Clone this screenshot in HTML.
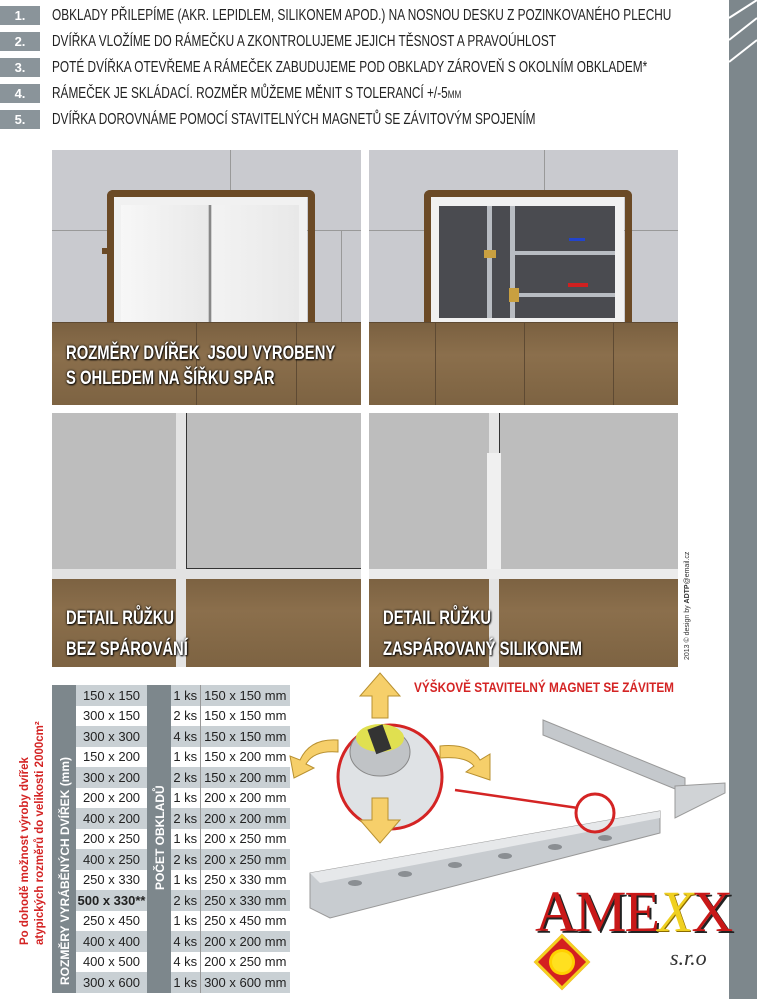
<!DOCTYPE html>
<html><head><meta charset="utf-8"><style>
*{margin:0;padding:0;box-sizing:border-box}
body{width:757px;height:999px;position:relative;background:#fff;overflow:hidden;font-family:"Liberation Sans",sans-serif}
.a{position:absolute}
.num{position:absolute;left:0;width:40px;height:19px;background:#8a949a;color:#fff;font-weight:bold;font-size:13px;line-height:19px;text-align:center}
.ln{position:absolute;left:52px;font-size:16px;line-height:19px;color:#222;white-space:nowrap;transform-origin:0 0;transform:scaleX(0.74)}
.panel{position:absolute;overflow:hidden;background:#c9cacf}
.wood{position:absolute;left:0;right:0;bottom:0;background:linear-gradient(180deg,#7a6040,#8b6f4c 40%,#7d6342)}
.cap{position:absolute;color:#fff;font-weight:bold;font-size:19px;line-height:25px;white-space:nowrap;transform-origin:0 0;transform:scaleX(0.78);text-shadow:1px 1px 2px #000,0 0 3px #000}
table{border-collapse:collapse;position:absolute}
td{height:20.5px;font-size:13px;color:#222;text-align:center;padding:0;white-space:nowrap}
</style></head><body>
<div class="a" style="left:729px;top:0;width:28px;height:999px;background:#7d878c"></div>
<svg class="a" style="left:729px;top:0" width="28" height="70"><path d="M0 18L28 0M0 40L28 18M0 62L28 40" stroke="#fff" stroke-width="2" fill="none"/></svg>

<div class="num" style="top:6px">1.</div><div class="ln" style="top:6px">OBKLADY PŘILEPÍME (AKR. LEPIDLEM, SILIKONEM APOD.) NA NOSNOU DESKU Z POZINKOVANÉHO PLECHU</div>
<div class="num" style="top:32px">2.</div><div class="ln" style="top:32px">DVÍŘKA VLOŽÍME DO RÁMEČKU A ZKONTROLUJEME JEJICH TĚSNOST A PRAVOÚHLOST</div>
<div class="num" style="top:58px">3.</div><div class="ln" style="top:58px">POTÉ DVÍŘKA OTEVŘEME A RÁMEČEK ZABUDUJEME POD OBKLADY ZÁROVEŇ S OKOLNÍM OBKLADEM*</div>
<div class="num" style="top:84px">4.</div><div class="ln" style="top:84px">RÁMEČEK JE SKLÁDACÍ. ROZMĚR MŮŽEME MĚNIT S TOLERANCÍ +/-5<span style="font-size:11px">MM</span></div>
<div class="num" style="top:110px">5.</div><div class="ln" style="top:110px">DVÍŘKA DOROVNÁME POMOCÍ STAVITELNÝCH MAGNETŮ SE ZÁVITOVÝM SPOJENÍM</div>

<!-- top-left panel -->
<div class="panel" style="left:52px;top:150px;width:309px;height:255px">
 <div class="a" style="left:0;top:80px;width:309px;height:1px;background:#999"></div>
 <div class="a" style="left:178px;top:0;width:1px;height:80px;background:#999"></div>
 <div class="a" style="left:289px;top:80px;width:1px;height:92px;background:#999"></div>
 <div class="wood" style="height:83px"></div>
 <div class="a" style="left:50px;top:98px;width:32px;height:6px;background:#6b4a26"></div>
 <div class="a" style="left:55px;top:40px;width:208px;height:132px;border:7px solid #6b4a26;border-bottom:none;border-radius:6px 6px 0 0"></div>
 <div class="a" style="left:62px;top:47px;width:193px;height:125px;background:#f1f1f1"></div>
 <div class="a" style="left:69px;top:55px;width:178px;height:117px;background:linear-gradient(90deg,#f7f7f7,#e9e9e9 49%,#888 49.5%,#888 50.5%,#f3f3f3 51%,#e8e8e8)"></div>
 <div class="a" style="left:0;top:172px;width:309px;height:1px;background:#5e4a33"></div>
 <div class="a" style="left:144px;top:172px;width:1px;height:83px;background:#5e4a33"></div>
 <div class="a" style="left:244px;top:172px;width:1px;height:83px;background:#5e4a33"></div>
 <div class="cap" style="left:14px;top:191px">ROZMĚRY DVÍŘEK&nbsp; JSOU VYROBENY<br>S OHLEDEM NA ŠÍŘKU SPÁR</div>
</div>
<!-- top-right panel -->
<div class="panel" style="left:369px;top:150px;width:309px;height:255px">
 <div class="a" style="left:0;top:80px;width:309px;height:1px;background:#999"></div>
 <div class="a" style="left:175px;top:0;width:1px;height:80px;background:#999"></div>
 <div class="wood" style="height:83px"></div>
 <div class="a" style="left:55px;top:40px;width:208px;height:132px;border:7px solid #6b4a26;border-bottom:none;border-radius:6px 6px 0 0"></div>
 <div class="a" style="left:62px;top:47px;width:193px;height:125px;background:#f1f1f1"></div>
 <div class="a" style="left:70px;top:56px;width:176px;height:112px;background:#4a4b50"></div>
 <div class="a" style="left:118px;top:56px;width:5px;height:112px;background:#b8bcc2"></div>
 <div class="a" style="left:141px;top:56px;width:5px;height:112px;background:#b8bcc2"></div>
 <div class="a" style="left:141px;top:101px;width:105px;height:4px;background:#b8bcc2"></div>
 <div class="a" style="left:141px;top:143px;width:105px;height:4px;background:#b8bcc2"></div>
 <div class="a" style="left:115px;top:100px;width:12px;height:8px;background:#c9a040"></div>
 <div class="a" style="left:140px;top:138px;width:10px;height:14px;background:#c9a040"></div>
 <div class="a" style="left:200px;top:88px;width:16px;height:3px;background:#2244cc"></div>
 <div class="a" style="left:199px;top:133px;width:20px;height:4px;background:#d02020"></div>
 <div class="a" style="left:0;top:172px;width:309px;height:1px;background:#5e4a33"></div>
 <div class="a" style="left:66px;top:172px;width:1px;height:83px;background:#5e4a33"></div>
 <div class="a" style="left:155px;top:172px;width:1px;height:83px;background:#5e4a33"></div>
 <div class="a" style="left:244px;top:172px;width:1px;height:83px;background:#5e4a33"></div>
</div>
<!-- bottom-left -->
<div class="panel" style="left:52px;top:413px;width:309px;height:254px;background:#bdbdbd">
 <div class="wood" style="height:93px"></div>
 <div class="a" style="left:124px;top:0;width:10px;height:254px;background:#e4e4e4"></div>
 <div class="a" style="left:0;top:156px;width:309px;height:10px;background:#e2e2e2"></div>
 <div class="a" style="left:134px;top:0;width:1px;height:155px;background:#333"></div>
 <div class="a" style="left:134px;top:155px;width:175px;height:1px;background:#333"></div>
 <div class="cap" style="left:14px;top:190px;line-height:31px">DETAIL RŮŽKU<br>BEZ SPÁROVÁNÍ</div>
</div>
<!-- bottom-right -->
<div class="panel" style="left:369px;top:413px;width:309px;height:254px;background:#bdbdbd">
 <div class="wood" style="height:93px"></div>
 <div class="a" style="left:120px;top:0;width:10px;height:254px;background:#e4e4e4"></div>
 <div class="a" style="left:118px;top:40px;width:14px;height:125px;background:#f0f0f0"></div>
 <div class="a" style="left:0;top:156px;width:309px;height:10px;background:#ececec"></div>
 <div class="a" style="left:130px;top:0;width:1px;height:40px;background:#333"></div>
 <div class="cap" style="left:14px;top:190px;line-height:31px">DETAIL RŮŽKU<br>ZASPÁROVANÝ SILIKONEM</div>
</div>
<div class="a" style="left:684px;top:660px;font-size:7px;color:#333;white-space:nowrap;transform:rotate(-90deg);transform-origin:0 0">2013 © design by <b>ADTP</b>@email.cz</div>

<!-- table -->
<div class="a" style="left:52px;top:685px;width:24px;height:308px;background:#7d878c"></div>
<div class="a" style="left:147px;top:685px;width:24px;height:308px;background:#7d878c"></div>
<div class="a" style="left:58px;top:985px;color:#fff;font-weight:bold;font-size:12px;white-space:nowrap;transform:rotate(-90deg);transform-origin:0 0">ROZMĚRY VYRÁBĚNÝCH DVÍŘEK (mm)</div>
<div class="a" style="left:153px;top:890px;color:#fff;font-weight:bold;font-size:12px;white-space:nowrap;transform:rotate(-90deg);transform-origin:0 0">POČET OBKLADŮ</div>
<div class="a" style="left:18px;top:945px;color:#d42424;font-weight:bold;font-size:11.5px;line-height:15px;white-space:nowrap;transform:rotate(-90deg);transform-origin:0 0">Po dohodě možnost výroby dvířek<br>atypických rozměrů do velikosti 2000cm²</div>
<table style="left:76px;top:685px;width:71px">
<tr><td style="background:#c9d0d4">150 x 150</td></tr><tr><td>300 x 150</td></tr><tr><td style="background:#c9d0d4">300 x 300</td></tr><tr><td>150 x 200</td></tr><tr><td style="background:#c9d0d4">300 x 200</td></tr><tr><td>200 x 200</td></tr><tr><td style="background:#c9d0d4">400 x 200</td></tr><tr><td>200 x 250</td></tr><tr><td style="background:#c9d0d4">400 x 250</td></tr><tr><td>250 x 330</td></tr><tr><td style="background:#c9d0d4;font-weight:bold">500 x 330**</td></tr><tr><td>250 x 450</td></tr><tr><td style="background:#c9d0d4">400 x 400</td></tr><tr><td>400 x 500</td></tr><tr><td style="background:#c9d0d4">300 x 600</td></tr>
</table>
<table style="left:171px;top:685px;width:119px">
<tr style="background:#c9d0d4"><td style="width:29px;border-right:1px solid #999">1 ks</td><td>150 x 150 mm</td></tr>
<tr><td style="border-right:1px solid #999">2 ks</td><td>150 x 150 mm</td></tr>
<tr style="background:#c9d0d4"><td style="border-right:1px solid #999">4 ks</td><td>150 x 150 mm</td></tr>
<tr><td style="border-right:1px solid #999">1 ks</td><td>150 x 200 mm</td></tr>
<tr style="background:#c9d0d4"><td style="border-right:1px solid #999">2 ks</td><td>150 x 200 mm</td></tr>
<tr><td style="border-right:1px solid #999">1 ks</td><td>200 x 200 mm</td></tr>
<tr style="background:#c9d0d4"><td style="border-right:1px solid #999">2 ks</td><td>200 x 200 mm</td></tr>
<tr><td style="border-right:1px solid #999">1 ks</td><td>200 x 250 mm</td></tr>
<tr style="background:#c9d0d4"><td style="border-right:1px solid #999">2 ks</td><td>200 x 250 mm</td></tr>
<tr><td style="border-right:1px solid #999">1 ks</td><td>250 x 330 mm</td></tr>
<tr style="background:#c9d0d4"><td style="border-right:1px solid #999">2 ks</td><td>250 x 330 mm</td></tr>
<tr><td style="border-right:1px solid #999">1 ks</td><td>250 x 450 mm</td></tr>
<tr style="background:#c9d0d4"><td style="border-right:1px solid #999">4 ks</td><td>200 x 200 mm</td></tr>
<tr><td style="border-right:1px solid #999">4 ks</td><td>200 x 250 mm</td></tr>
<tr style="background:#c9d0d4"><td style="border-right:1px solid #999">1 ks</td><td>300 x 600 mm</td></tr>
</table>

<!-- magnet illustration -->
<svg class="a" style="left:280px;top:668px" width="449" height="331">
 <polygon points="263,52 405,110 405,125 263,67" fill="#c4c8cc" stroke="#999"/>
 <polygon points="395,118 445,115 445,125 395,150" fill="#d0d3d6" stroke="#999"/>
 <polygon points="30,205 380,143 380,165 50,250 30,240" fill="#c8ccd0" stroke="#999"/>
 <polygon points="30,205 380,143 380,150 40,215" fill="#e6e8ea"/>
 <g fill="#8a8e92"><ellipse cx="75" cy="215" rx="7" ry="3"/><ellipse cx="125" cy="206" rx="7" ry="3"/><ellipse cx="175" cy="197" rx="7" ry="3"/><ellipse cx="225" cy="188" rx="7" ry="3"/><ellipse cx="275" cy="179" rx="7" ry="3"/><ellipse cx="325" cy="170" rx="7" ry="3"/></g>
 <line x1="175" y1="122" x2="298" y2="140" stroke="#d42424" stroke-width="2.5"/>
 <circle cx="110" cy="109" r="52" fill="#dfe2e5" stroke="#d42424" stroke-width="3"/>
 <circle cx="315" cy="145" r="19" fill="none" stroke="#d42424" stroke-width="3"/>
 <ellipse cx="100" cy="84" rx="30" ry="24" fill="#c0c3c6" stroke="#888"/>
 <ellipse cx="100" cy="70" rx="24" ry="14" fill="#e0e050"/>
 <rect x="91" y="58" width="16" height="26" fill="#333" transform="rotate(-20 100 70)"/>
 <g fill="#f6cf6a" stroke="#b89030" stroke-width="1">
  <polygon points="100,5 120,28 108,28 108,50 92,50 92,28 80,28"/>
  <polygon points="100,175 120,152 108,152 108,130 92,130 92,152 80,152"/>
  <path d="M58 72 Q30 70 20 92 L10 88 L14 110 L34 100 L26 96 Q34 82 58 84Z"/>
  <path d="M160 78 Q190 75 200 92 L210 86 L210 112 L186 104 L194 98 Q186 88 160 90Z"/>
 </g>
 <text x="134" y="24" font-family="Liberation Sans" font-weight="bold" font-size="14" fill="#d42424" textLength="260" lengthAdjust="spacingAndGlyphs">VÝŠKOVĚ STAVITELNÝ MAGNET SE ZÁVITEM</text>
</svg>
<!-- logo -->
<div class="a" style="left:517px;top:875px;width:210px;height:124px;background:#fff"></div>
<div class="a" style="left:535px;top:878px;font-family:'Liberation Serif',serif;font-size:58px;color:#c81818;letter-spacing:-2px;text-shadow:2px 2px 0 #222">AME<span style="color:#f0d020;font-style:italic;text-shadow:1px 1px 0 #8a6a00">X</span>X</div>
<div class="a" style="left:670px;top:945px;font-family:'Liberation Serif',serif;font-style:italic;font-size:22px;color:#333">s.r.o</div>
<div class="a" style="left:542px;top:942px;width:40px;height:40px;background:#d42020;transform:rotate(45deg);border:3px solid #f3d020"></div>
<div class="a" style="left:552px;top:952px;width:20px;height:20px;border-radius:50%;background:#ffe020;box-shadow:0 0 0 3px #ffd000"></div>
</body></html>
